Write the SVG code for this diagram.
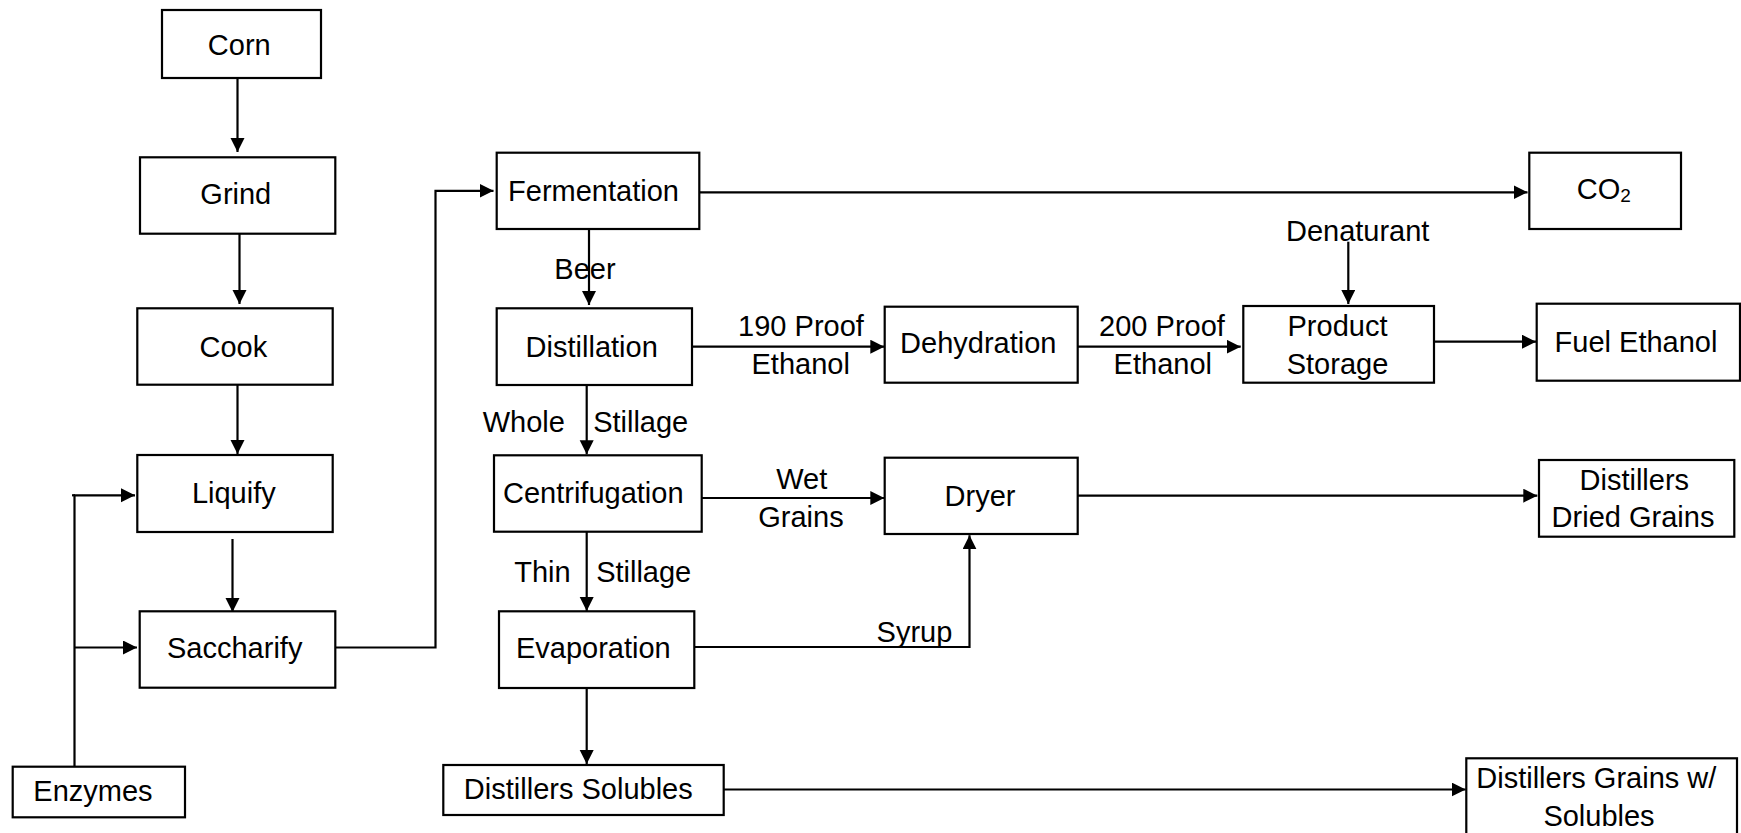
<svg xmlns="http://www.w3.org/2000/svg" width="1741" height="833" viewBox="0 0 1741 833">
<style>
.box{fill:#fff;stroke:#000;stroke-width:2.2}
.t{font-family:"Liberation Sans",Arial,sans-serif;font-size:29px;fill:#000;text-anchor:middle}
.l{font-family:"Liberation Sans",Arial,sans-serif;font-size:29px;fill:#000}
.c{fill:none;stroke:#000;stroke-width:2.2}
.a{marker-end:url(#ah)}
</style>
<defs>
<marker id="ah" markerUnits="userSpaceOnUse" markerWidth="15" markerHeight="15" refX="14" refY="7" orient="auto">
<path d="M0,0 L14,7 L0,14 z" fill="#000"/>
</marker>
</defs>
<rect width="1741" height="833" fill="#fff"/>
<g id="connectors">
<path class="c a" d="M237.5,78 V152"/>
<path class="c a" d="M239.5,230 V304"/>
<path class="c a" d="M237.5,382 V454"/>
<path class="c a" d="M232.5,539 V612"/>
<path class="c a" d="M74.5,767 V495.3 H135"/>
<path class="c" d="M72,495.3 H75"/>
<path class="c a" d="M75,647.5 H137"/>
<path class="c a" d="M335,647.5 H435.5 V190.8 H493.5"/>
<path class="c a" d="M695,192.3 H1527.5"/>
<path class="c a" d="M589,229 V305"/>
<path class="c a" d="M692,346.7 H884.3"/>
<path class="c a" d="M586.7,385 V454.3"/>
<path class="c a" d="M702,498 H884.3"/>
<path class="c a" d="M586.7,531.7 V611"/>
<path class="c a" d="M586.7,688 V764"/>
<path class="c a" d="M694,647 H969.5 V535.3"/>
<path class="c a" d="M1077.7,346.7 H1240.7"/>
<path class="c a" d="M1348.3,241.7 V304"/>
<path class="c a" d="M1434,341.7 H1536"/>
<path class="c a" d="M1077.7,495.7 H1537.3"/>
<path class="c a" d="M723.7,789.5 H1465.7"/>
</g>
<g id="labels">
<text class="t" x="585" y="279">Beer</text>
<text class="t" x="801" y="335.7">190 Proof</text>
<text class="t" x="800.7" y="374">Ethanol</text>
<text class="t" x="1162" y="335.7">200 Proof</text>
<text class="t" x="1162.8" y="374">Ethanol</text>
<text class="t" x="1357.7" y="241">Denaturant</text>
<text class="t" x="523.8" y="431.7">Whole</text>
<text class="t" x="640.7" y="431.7">Stillage</text>
<text class="t" x="801.7" y="489.3">Wet</text>
<text class="t" x="801" y="526.7">Grains</text>
<text class="t" x="542.5" y="582.3">Thin</text>
<text class="t" x="643.7" y="582.3">Stillage</text>
<text class="t" x="914.5" y="641.7">Syrup</text>
</g>
<g id="corn"><rect class="box" x="162" y="10" width="159" height="68"/><text class="t" x="239.3" y="55">Corn</text></g>
<g id="grind"><rect class="box" x="140" y="157.3" width="195.3" height="76.4"/><text class="t" x="235.8" y="204">Grind</text></g>
<g id="cook"><rect class="box" x="137.3" y="308.3" width="195.4" height="76.4"/><text class="t" x="233.3" y="356.7">Cook</text></g>
<g id="liquify"><rect class="box" x="137.3" y="455" width="195.4" height="77"/><text class="t" x="233.8" y="503.3">Liquify</text></g>
<g id="saccharify"><rect class="box" x="139.7" y="611.3" width="195.6" height="76.4"/><text class="t" x="234.7" y="658.3">Saccharify</text></g>
<g id="enzymes"><rect class="box" x="12.7" y="766.7" width="172.3" height="50.6"/><text class="t" x="93" y="800.7">Enzymes</text></g>
<g id="fermentation"><rect class="box" x="496.7" y="152.7" width="202.6" height="76.3"/><text class="t" x="593.5" y="200.7">Fermentation</text></g>
<g id="distillation"><rect class="box" x="496.7" y="308.3" width="195.3" height="76.7"/><text class="t" x="591.7" y="356.7">Distillation</text></g>
<g id="centrifugation"><rect class="box" x="494" y="455.3" width="207.7" height="76.4"/><text class="t" x="593.3" y="503.3">Centrifugation</text></g>
<g id="evaporation"><rect class="box" x="499" y="611.3" width="195.3" height="76.7"/><text class="t" x="593.3" y="658.3">Evaporation</text></g>
<g id="distillers-solubles"><rect class="box" x="443.3" y="765" width="280.4" height="50"/><text class="t" x="578.3" y="799.3">Distillers Solubles</text></g>
<g id="dehydration"><rect class="box" x="884.7" y="306.7" width="193" height="76"/><text class="t" x="978.3" y="353.3">Dehydration</text></g>
<g id="dryer"><rect class="box" x="884.7" y="457.7" width="193" height="76.3"/><text class="t" x="980" y="506">Dryer</text></g>
<g id="product-storage"><rect class="box" x="1243.3" y="306" width="190.7" height="76.7"/><text class="t" x="1337.5" y="336">Product</text><text class="t" x="1337.5" y="374.3">Storage</text></g>
<g id="co2"><rect class="box" x="1529.3" y="152.7" width="151.7" height="76.3"/><text class="l" x="1576.7" y="199.3">CO<tspan font-size="19" dy="3">2</tspan></text></g>
<g id="fuel-ethanol"><rect class="box" x="1536.7" y="303.7" width="203.3" height="77"/><text class="t" x="1636" y="351.7">Fuel Ethanol</text></g>
<g id="ddg"><rect class="box" x="1539" y="460" width="195.3" height="76.7"/><text class="t" x="1634.3" y="490">Distillers</text><text class="t" x="1633" y="527.3">Dried Grains</text></g>
<g id="dgws"><rect class="box" x="1466.3" y="758.3" width="270.7" height="90"/><text class="t" x="1596.3" y="788.3">Distillers Grains w/</text><text class="t" x="1599" y="826">Solubles</text></g>
</svg>
